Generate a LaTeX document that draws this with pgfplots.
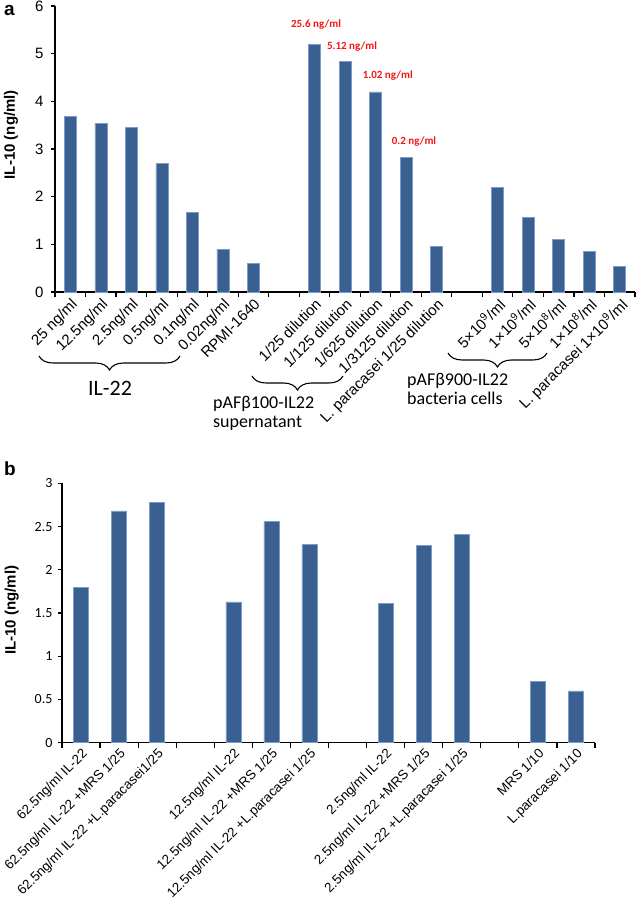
\documentclass[border=0pt]{standalone}
\usepackage{pgfplots}
\pgfplotsset{compat=1.18}
\usepackage{fontspec}
\setmainfont{Liberation Sans}
\newfontfamily\calibri{Carlito}
\usetikzlibrary{decorations.pathreplacing}
\definecolor{barblue}{RGB}{58,95,145}
\definecolor{baredge}{RGB}{125,155,200}
\definecolor{annred}{RGB}{245,20,20}
\pgfplotsset{
  mybars/.style={
    scale only axis, ybar, enlargelimits=false, clip=false,
    axis lines=left, axis line style={-, line width=1.5pt},
    tick align=outside,
    major x tick style={draw=none},
    minor x tick style={black, line width=1.2pt},
    major y tick style={black, line width=1.2pt},
    minor tick length=5pt, major tick length=4pt,
    /pgf/number format/assume math mode=true,
    xticklabel style={rotate=45, anchor=north east, inner sep=1pt},
  }
}
\begin{document}
\begin{tikzpicture}
\useasboundingbox (0pt,0pt) rectangle (638pt,903pt);
% ---------------- panel a
\begin{axis}[mybars,
  at={(55pt,611pt)}, anchor=south west,
  width=580pt, height=286pt,
  bar width=12pt,
  xmin=-0.5, xmax=18.5, ymin=0, ymax=6,
  ytick={0,1,2,3,4,5,6},
  yticklabel style={font=\fontsize{15}{15}\selectfont, xshift=-4pt},
  xtick={0,...,18},
  minor xtick={-0.5,0.5,...,18.5},
  xticklabel style={font=\fontsize{15}{15}\selectfont},
  xticklabels={25 ng/ml, 12.5ng/ml, 2.5ng/ml, 0.5ng/ml, 0.1ng/ml, 0.02ng/ml, RPMI-1640, {}, 1/25 dilution, 1/125 dilution, 1/625 dilution, 1/3125 dilution, L. paracasei 1/25 dilution, {}, 5×10\textsuperscript{9}/ml, 1×10\textsuperscript{9}/ml, 5×10\textsuperscript{8}/ml, 1×10\textsuperscript{8}/ml, L. paracasei 1×10\textsuperscript{9}/ml},
  ylabel={IL-10 (ng/ml)},
  ylabel style={font=\bfseries\fontsize{15}{15}\selectfont, at={(axis description cs:-0.076,0.55)}, anchor=center},
]
\addplot[fill=barblue, draw=baredge, line width=0.5pt] coordinates {
(0,3.69)(1,3.53)(2,3.45)(3,2.70)(4,1.67)(5,0.90)(6,0.60)
(8,5.19)(9,4.84)(10,4.20)(11,2.82)(12,0.95)
(14,2.19)(15,1.57)(16,1.11)(17,0.85)(18,0.53)};
\node[text=annred, font=\calibri\bfseries\fontsize{11}{11}\selectfont] at (axis cs:8.05,5.6) {25.6 ng/ml};
\node[text=annred, font=\calibri\bfseries\fontsize{11}{11}\selectfont] at (axis cs:9.23,5.15) {5.12 ng/ml};
\node[text=annred, font=\calibri\bfseries\fontsize{11}{11}\selectfont] at (axis cs:10.4,4.53) {1.02 ng/ml};
\node[text=annred, font=\calibri\bfseries\fontsize{11}{11}\selectfont] at (axis cs:11.26,3.15) {0.2 ng/ml};
\end{axis}
% ---------------- panel b
\begin{axis}[mybars,
  at={(62pt,160.3pt)}, anchor=south west,
  width=533pt, height=259.4pt,
  bar width=15pt,
  xmin=-0.5, xmax=13.5, ymin=0, ymax=3,
  ytick={0,0.5,1,1.5,2,2.5,3},
  yticklabel style={font=\calibri\fontsize{14}{14}\selectfont, xshift=-2pt},
  xtick={0,...,13},
  minor xtick={-0.5,0.5,...,13.5},
  xticklabel style={font=\fontsize{13.4}{13.4}\selectfont, inner sep=0.5pt},
  xticklabels={62.5ng/ml IL-22, 62.5ng/ml IL-22 +MRS 1/25, 62.5ng/ml IL-22 +L.paracasei1/25, {}, 12.5ng/ml IL-22, 12.5ng/ml IL-22 +MRS 1/25, 12.5ng/ml IL-22 +L.paracasei 1/25, {}, 2.5ng/ml IL-22, 2.5ng/ml IL-22 +MRS 1/25, 2.5ng/ml IL-22 +L.paracasei 1/25, {}, MRS 1/10, L.paracasei 1/10},
  ylabel={IL-10 (ng/ml)},
  ylabel style={font=\bfseries\fontsize{15}{15}\selectfont, at={(axis description cs:-0.094,0.51)}, anchor=center},
]
\addplot[fill=barblue, draw=baredge, line width=0.5pt] coordinates {
(0,1.80)(1,2.68)(2,2.78)
(4,1.63)(5,2.56)(6,2.29)
(8,1.61)(9,2.28)(10,2.41)
(12,0.71)(13,0.60)};
\end{axis}
% ---------------- annotations
\node[anchor=north west, inner sep=0pt, font=\bfseries\fontsize{19}{19}\selectfont] at (4pt,898pt) {a};
\node[anchor=north west, inner sep=0pt, font=\bfseries\fontsize{19}{19}\selectfont] at (4pt,441pt) {b};
\draw[line width=1.1pt, decorate, decoration={brace, mirror, amplitude=14pt}] (39pt,547pt) -- (180pt,547pt);
\node[font=\calibri\fontsize{22}{22}\selectfont] at (110pt,515pt) {IL-22};
\draw[line width=1.1pt, decorate, decoration={brace, mirror, amplitude=14pt}] (252pt,527pt) -- (343pt,527pt);
\node[anchor=north west, inner sep=0pt, align=left, font=\calibri\fontsize{18}{19}\selectfont] at (213pt,507pt) {pAFβ100-IL22\\supernatant};
\draw[line width=1.1pt, decorate, decoration={brace, mirror, amplitude=14pt}] (448pt,550pt) -- (547pt,550pt);
\node[anchor=north west, inner sep=0pt, align=left, font=\calibri\fontsize{18}{19}\selectfont] at (407pt,530pt) {pAFβ900-IL22\\bacteria cells};
\end{tikzpicture}
\end{document}
